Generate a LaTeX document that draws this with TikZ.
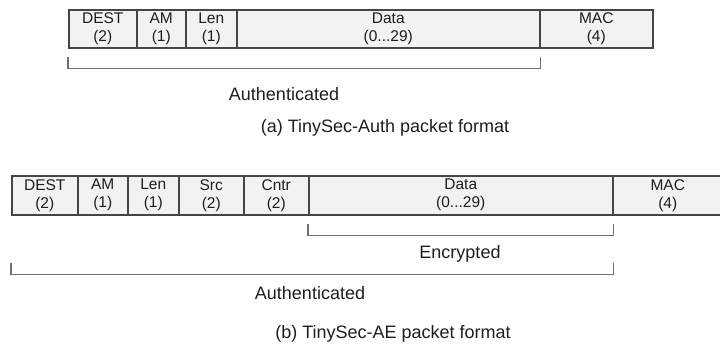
\documentclass[tikz,border=0pt]{standalone}
\usepackage{fontspec}
\setmainfont{Liberation Sans}
\usetikzlibrary{calc}
\definecolor{cellfill}{HTML}{F2F2F2}
\definecolor{cellline}{HTML}{454545}
\definecolor{brk}{HTML}{707070}
\definecolor{txt}{HTML}{1E1E1E}
\begin{document}
\begin{tikzpicture}[x=1pt,y=-1pt,
  cell/.style={draw=cellline, fill=cellfill, line width=1.5pt, inner sep=0pt,
    anchor=north west, align=center, text=txt,
    font=\fontsize{15.5}{18}\selectfont},
  bracket/.style={draw=brk, line width=1.4pt},
  lbl/.style={anchor=base, inner sep=0pt, text=txt, font=\fontsize{18}{21}\selectfont}]
\useasboundingbox (0,0) rectangle (720,354);

% (a) TinySec-Auth packet
\node[cell, minimum width=68pt,  minimum height=38pt] (aDest) at (68,9)  {DEST\\(2)};
\node[cell, minimum width=49pt,  minimum height=38pt] (aAm)   at (136,9) {AM\\(1)};
\node[cell, minimum width=51pt,  minimum height=38pt] (aLen)  at (185,9) {Len\\(1)};
\node[cell, minimum width=303pt, minimum height=38pt] (aData) at (236,9) {Data\\(0...29)};
\node[cell, minimum width=113pt, minimum height=38pt] (aMac)  at (539,9) {MAC\\(4)};

\draw[bracket] ($(aDest.south west)+(0,8)$) -- ($(aDest.south west)+(0,20)$)
  -| ($(aData.south east)+(0,8)$);
\node[lbl] (aAuth) at (284,100) {Authenticated};
\node[lbl] (aCap)  at (385,132) {(a) TinySec-Auth packet format};

% (b) TinySec-AE packet
\node[cell, minimum width=66pt,  minimum height=39pt] (bDest) at (11,175)  {DEST\\(2)};
\node[cell, minimum width=50pt,  minimum height=39pt] (bAm)   at (77,175)  {AM\\(1)};
\node[cell, minimum width=51pt,  minimum height=39pt] (bLen)  at (127,175) {Len\\(1)};
\node[cell, minimum width=65pt,  minimum height=39pt] (bSrc)  at (178,175) {Src\\(2)};
\node[cell, minimum width=65pt,  minimum height=39pt] (bCntr) at (243,175) {Cntr\\(2)};
\node[cell, minimum width=304pt, minimum height=39pt] (bData) at (308,175) {Data\\(0...29)};
\node[cell, minimum width=110pt, minimum height=39pt] (bMac)  at (612,175) {MAC\\(4)};

\draw[bracket] ($(bData.south west)+(0,8)$) -- ($(bData.south west)+(0,20)$)
  -| ($(bData.south east)+(0,8)$);
\node[lbl] (bEnc) at (460,258) {Encrypted};

\draw[bracket] ($(bDest.south west)+(0,47)$) -- ($(bDest.south west)+(0,59)$)
  -| ($(bData.south east)+(0,47)$);
\node[lbl] (bAuth) at (310,299) {Authenticated};
\node[lbl] (bCap)  at (393,338) {(b) TinySec-AE packet format};
\end{tikzpicture}
\end{document}
